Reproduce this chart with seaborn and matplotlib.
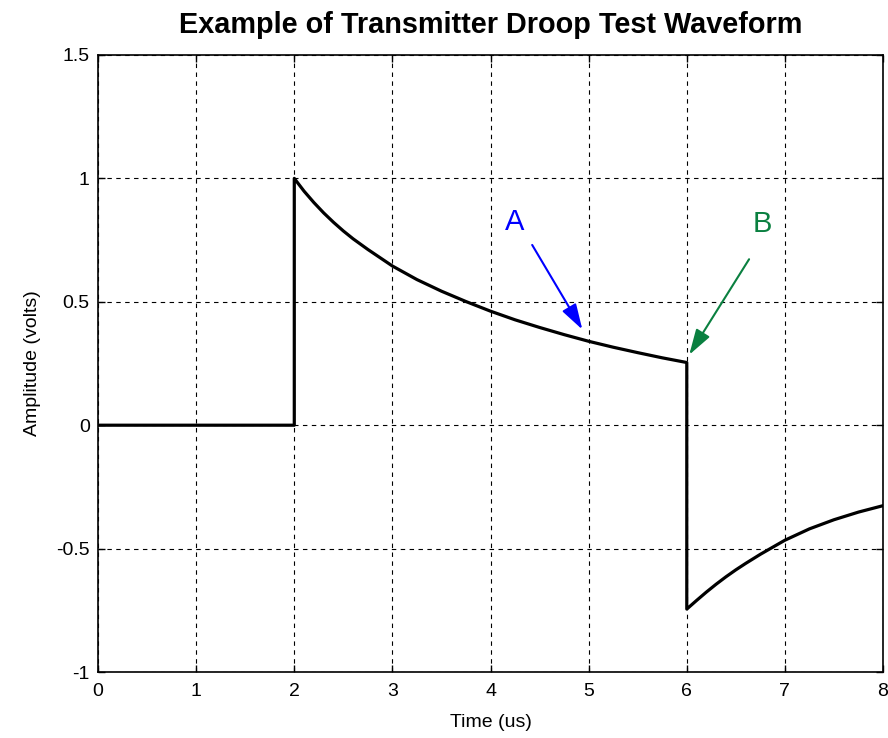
import matplotlib
matplotlib.use("Agg")
import matplotlib.pyplot as plt
import seaborn as sns
import pandas as pd

# Data
time_us = [0, 2,
           2, 2.1, 2.2, 2.3, 2.4, 2.5, 2.6, 2.75, 3.0, 3.25, 3.5, 3.75, 4.0,
           4.25, 4.5, 4.75, 5.0, 5.25, 5.5, 5.75, 6.0,
           6.0, 6.1, 6.2, 6.3, 6.4, 6.5, 6.6, 6.75, 7.0, 7.25, 7.5, 7.75, 8.0]
amplitude = [0, 0,
             1.0, 0.948, 0.902, 0.86, 0.822, 0.787, 0.755, 0.712, 0.645, 0.59, 0.543,
             0.501, 0.462, 0.427, 0.396, 0.367, 0.340, 0.316, 0.294, 0.273, 0.254,
             -0.745, -0.71, -0.676, -0.644, -0.614, -0.586, -0.56, -0.523, -0.466,
             -0.42, -0.383, -0.352, -0.326]
x_ticks = [0, 1, 2, 3, 4, 5, 6, 7, 8]
y_ticks = [-1, -0.5, 0, 0.5, 1, 1.5]
y_tick_labels = ["-1", "-0.5", "0", "0.5", "1", "1.5"]

sns.set_theme(style="white")
plt.rcParams["font.family"] = ["Liberation Sans Narrow", "Liberation Sans", "DejaVu Sans"]
plt.rcParams["axes.unicode_minus"] = False
plt.rcParams["text.color"] = "black"
plt.rcParams["axes.labelcolor"] = "black"

fig = plt.figure(figsize=(8.88, 7.38), dpi=100)
ax = fig.add_axes([0.1104, 0.0894, 0.8840, 0.8361])

df = pd.DataFrame({"t": time_us, "a": amplitude})
sns.lineplot(data=df, x="t", y="a", sort=False, estimator=None, color="black",
             linewidth=2.3, ax=ax)

ax.set_xlim(0, 8)
ax.set_ylim(-1, 1.5)
ax.set_xticks(x_ticks)
ax.set_xticklabels([str(v) for v in x_ticks])
ax.set_yticks(y_ticks)
ax.set_yticklabels(y_tick_labels)
ax.grid(True, color="black", linestyle=(0, (4, 4)), linewidth=0.8)
for s in ax.spines.values():
    s.set_color("black")
    s.set_linewidth(1.2)
ax.tick_params(axis="both", direction="in", length=5, width=1, colors="black",
               labelcolor="black", labelsize=14, pad=6,
               top=True, right=True, bottom=True, left=True)
ax.tick_params(axis="x", pad=8)

ax.set_title("Example of Transmitter Droop Test Waveform", fontsize=20.8,
             fontweight="bold", pad=16, color="black",
             family=["Liberation Sans", "DejaVu Sans"])
ax.set_xlabel("Time (us)", fontsize=14, labelpad=10)
ax.set_ylabel("Amplitude (volts)", fontsize=14, labelpad=11)

ax.annotate("", xy=(4.95, 0.378), xytext=(4.41, 0.740),
            arrowprops=dict(arrowstyle="-|>,head_length=1.3,head_width=0.4",
                            color="#0000ff", lw=1.5))
ax.text(4.25, 0.824, "A", color="#0000ff", fontsize=21, ha="center", va="center",
        family=["Liberation Sans", "DejaVu Sans"])
ax.annotate("", xy=(6.01, 0.276), xytext=(6.65, 0.682),
            arrowprops=dict(arrowstyle="-|>,head_length=1.3,head_width=0.4",
                            color="#0a8040", lw=1.5))
ax.text(6.77, 0.816, "B", color="#0a8040", fontsize=21, ha="center", va="center",
        family=["Liberation Sans", "DejaVu Sans"])

fig.savefig("out.png", dpi=100)
